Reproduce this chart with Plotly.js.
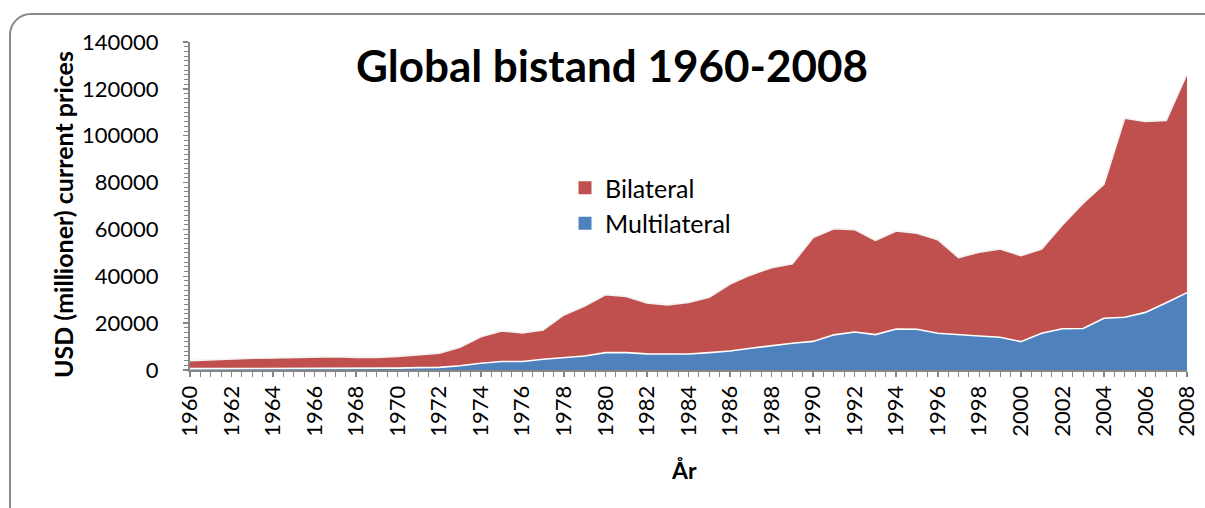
<!DOCTYPE html>
<html><head><meta charset="utf-8">
<script src="https://cdn.plot.ly/plotly-3.0.1.min.js"></script>
<style>
html,body{margin:0;padding:0;background:#fff;overflow:hidden}
#frame{position:absolute;left:9px;top:13px;width:1230px;height:520px;border:2px solid #8a8a8a;border-radius:22px;pointer-events:none;box-sizing:border-box}
</style></head><body>
<div id="chart" style="position:absolute;left:0;top:0;width:1205px;height:508px;"></div>
<div id="frame"></div>
<script>
const years = [1960,1961,1962,1963,1964,1965,1966,1967,1968,1969,
               1970,1971,1972,1973,1974,1975,1976,1977,1978,1979,
               1980,1981,1982,1983,1984,1985,1986,1987,1988,1989,
               1990,1991,1992,1993,1994,1995,1996,1997,1998,1999,
               2000,2001,2002,2003,2004,2005,2006,2007,2008];
const multilateral = [600,600,600,600,600,600,650,700,700,750,
                      800,1000,1100,1800,2900,3600,3600,4600,5400,6000,
                      7400,7400,6900,6700,6800,7400,8100,9300,10400,11400,
                      12200,15000,16200,15100,17500,17400,15700,15000,14500,14000,
                      12100,15700,17600,17700,22100,22500,24600,28700,33000];
const bilateral = [3400,3800,4000,4400,4500,4700,4750,5000,4700,4650,
                   5000,5500,6100,7900,11300,13100,12200,12500,18100,21300,
                   24700,24000,21700,21100,22000,23600,28600,31300,33300,33900,
                   44400,45300,43700,40200,41800,41000,39900,33000,35800,37700,
                   36700,35900,44300,53500,57200,85000,81500,77800,93400];
const xTicks = [1960,1962,1964,1966,1968,1970,1972,1974,1976,1978,1980,1982,1984,1986,1988,1990,1992,1994,1996,1998,2000,2002,2004,2006,2008];
const yTicks = [0,20000,40000,60000,80000,100000,120000,140000];

const FONT = 'Lato, "Open Sans", "DejaVu Sans", sans-serif';
const BLUE = '#4F81BD', RED = '#C0504D', AX = '#868686';

const traces = [
  {x: years, y: multilateral, name: 'Multilateral', type: 'scatter', mode: 'lines',
   stackgroup: 'one', fillcolor: BLUE, line: {color: '#ffffff', width: 1.6}, showlegend: false, hoverinfo: 'x+y+name'},
  {x: years, y: bilateral, name: 'Bilateral', type: 'scatter', mode: 'lines',
   stackgroup: 'one', fillcolor: RED, line: {color: '#f2f2f2', width: 1.6}, showlegend: false, hoverinfo: 'x+y+name'},
  {x: [null], y: [null], name: 'Bilateral', type: 'scatter', mode: 'markers',
   marker: {symbol: 'square', size: 13, color: RED}, legendgroup: 'b', showlegend: true},
  {x: [null], y: [null], name: 'Multilateral', type: 'scatter', mode: 'markers',
   marker: {symbol: 'square', size: 13, color: BLUE}, legendgroup: 'm', showlegend: true}
];

const L = 190, R = 18, T = 42, B = 138;
const W = 1205, H = 508;
const pw = W - L - R, ph = H - T - B;

const layout = {
  width: W, height: H,
  margin: {l: L, r: R, t: T, b: B, pad: 0},
  paper_bgcolor: '#ffffff', plot_bgcolor: '#ffffff',
  font: {family: FONT, color: '#000000', size: 22},
  showlegend: true,
  title: {text: '<b>Global bistand 1960-2008</b>', font: {family: FONT, size: 44, color: '#000'},
          x: 612 / W, xanchor: 'center', xref: 'container', y: 1 - 67 / H, yanchor: 'middle', yref: 'container'},
  xaxis: {
    range: [1960, 2008], tickvals: xTicks, ticktext: xTicks.map(String), tickangle: -90,
    ticks: 'outside', ticklen: 5, tickwidth: 1.5, tickcolor: AX,
    minor: {dtick: 0.5, tick0: 1960, ticks: 'outside', ticklen: 5, tickwidth: 1, tickcolor: AX, showgrid: false},
    showline: true, linecolor: AX, linewidth: 2, showgrid: false, zeroline: false,
    tickfont: {family: FONT, size: 22, color: '#000'}, fixedrange: true
  },
  yaxis: {
    range: [0, 140000], tickvals: yTicks, ticktext: yTicks.map(String),
    ticks: 'outside', ticklen: 5, tickwidth: 1.5, tickcolor: AX, ticklabelstandoff: 20,
    minor: {dtick: 2000, tick0: 0, ticks: 'outside', ticklen: 4, tickwidth: 1, tickcolor: AX, showgrid: false},
    showline: true, linecolor: AX, linewidth: 2, showgrid: false, zeroline: false,
    tickfont: {family: FONT, size: 22, color: '#000'}, fixedrange: true
  },
  xaxis2: {overlaying: 'x', anchor: 'y', range: [1960, 2008], tickvals: xTicks, showticklabels: false,
    ticks: 'inside', ticklen: 5, tickwidth: 1.5, tickcolor: AX,
    minor: {dtick: 0.5, tick0: 1960, ticks: 'inside', ticklen: 5, tickwidth: 1, tickcolor: AX},
    showline: false, showgrid: false, zeroline: false, fixedrange: true},
  yaxis2: {overlaying: 'y', anchor: 'x', side: 'left', range: [0, 140000], tickvals: yTicks, showticklabels: false,
    ticks: 'inside', ticklen: 5, tickwidth: 1.5, tickcolor: AX,
    minor: {dtick: 2000, tick0: 0, ticks: 'inside', ticklen: 4, tickwidth: 1, tickcolor: AX},
    showline: false, showgrid: false, zeroline: false, fixedrange: true},
  legend: {x: (565 - L) / pw, xanchor: 'left', y: (H - B - 165) / ph, yanchor: 'top',
           font: {family: FONT, size: 25, color: '#000'}, bgcolor: 'rgba(0,0,0,0)',
           traceorder: 'grouped', tracegroupgap: 0, itemwidth: 30},
  annotations: [
    {text: '<b>USD (millioner) current prices</b>', textangle: -90, xref: 'paper', yref: 'paper',
     x: (63 - L) / pw, y: (H - B - 215) / ph, xanchor: 'center', yanchor: 'middle', showarrow: false,
     font: {family: FONT, size: 25, color: '#000'}},
    {text: '<b>År</b>', xref: 'paper', yref: 'paper',
     x: (684 - L) / pw, y: (H - B - 470) / ph, xanchor: 'center', yanchor: 'middle', showarrow: false,
     font: {family: FONT, size: 23, color: '#000'}}
  ]
};

Plotly.newPlot('chart', traces, layout, {displayModeBar: false, staticPlot: true});
</script>
</body></html>
